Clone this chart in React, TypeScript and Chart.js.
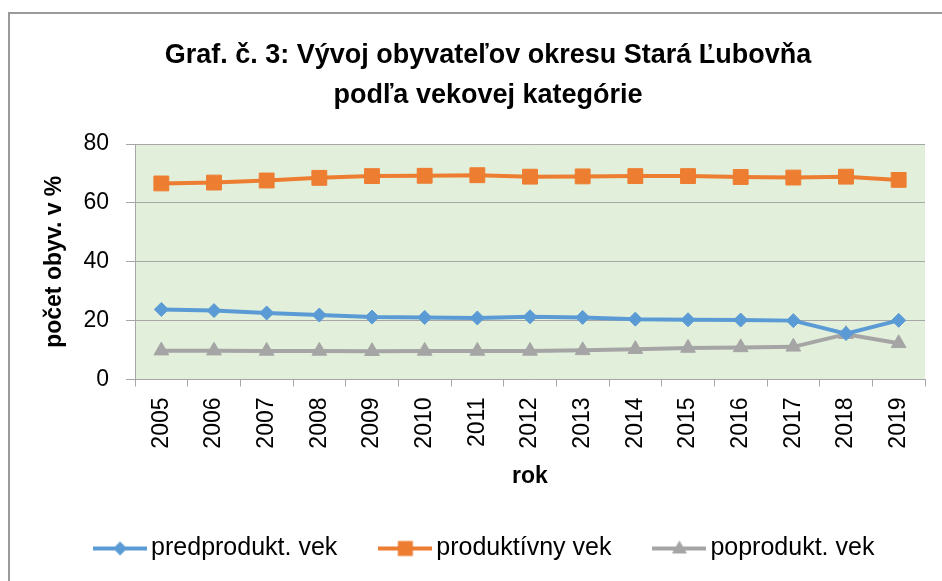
import React, { useEffect, useRef } from 'react';
import { Chart, registerables } from 'chart.js';

Chart.register(...registerables);

const years = ['2005', '2006', '2007', '2008', '2009', '2010', '2011', '2012', '2013', '2014', '2015', '2016', '2017', '2018', '2019'];
const predprodukt = [23.8, 23.4, 22.6, 21.9, 21.2, 21.1, 20.9, 21.3, 21.1, 20.5, 20.3, 20.2, 20.0, 15.6, 20.1];
const produktivny = [66.6, 66.9, 67.6, 68.5, 69.1, 69.2, 69.4, 68.9, 69.0, 69.1, 69.1, 68.8, 68.6, 68.9, 67.8];
const poprodukt = [9.8, 9.8, 9.7, 9.7, 9.6, 9.7, 9.7, 9.7, 9.9, 10.3, 10.7, 10.9, 11.1, 15.4, 12.3];
const yTicks = [0, 20, 40, 60, 80];
const titleLines = ['Graf. č. 3: Vývoj obyvateľov okresu Stará Ľubovňa', 'podľa vekovej kategórie'];
const seriesNames = ['predprodukt. vek', 'produktívny vek', 'poprodukt. vek'];
const yTitle = 'počet obyv. v %';
const xTitle = 'rok';

const colors = ['#5B9BD5', '#ED7D31', '#A5A5A5'];
const shapes = ['rectRot', 'rect', 'triangle'];
const radii = [7, 10.5, 8.5];

function legendIcon(color: string, shape: string): HTMLCanvasElement {
  const c = document.createElement('canvas');
  c.width = 54;
  c.height = 22;
  const g = c.getContext('2d')!;
  g.strokeStyle = color;
  g.lineWidth = 4;
  g.beginPath();
  g.moveTo(0, 11);
  g.lineTo(54, 11);
  g.stroke();
  g.fillStyle = color;
  g.beginPath();
  if (shape === 'rectRot') {
    g.moveTo(27, 4);
    g.lineTo(34, 11);
    g.lineTo(27, 18);
    g.lineTo(20, 11);
  } else if (shape === 'rect') {
    g.rect(27 - 7.5, 11 - 7.5, 15, 15);
  } else {
    g.moveTo(27, 3);
    g.lineTo(34.5, 16);
    g.lineTo(19.5, 16);
  }
  g.closePath();
  g.fill();
  return c;
}

export default function App() {
  const ref = useRef<HTMLCanvasElement>(null);

  useEffect(() => {
    const canvas = ref.current!;
    Chart.defaults.font.family = "'Liberation Sans', Arial, sans-serif";
    const icons = colors.map((c, i) => legendIcon(c, shapes[i]));
    const seriesData = [predprodukt, produktivny, poprodukt];

    const plotBg = {
      id: 'plotBg',
      beforeDraw(chart: any) {
        const { ctx, chartArea: a } = chart;
        ctx.save();
        ctx.fillStyle = '#E2EFDA';
        ctx.fillRect(a.left, a.top, a.right - a.left, a.bottom - a.top);
        ctx.restore();
      },
    };

    const chart = new Chart(canvas, {
      type: 'line',
      data: {
        labels: years,
        datasets: seriesData.map((d, i) => ({
          label: seriesNames[i],
          data: d,
          borderColor: colors[i],
          backgroundColor: colors[i],
          borderWidth: 4,
          pointStyle: shapes[i] as any,
          pointRadius: radii[i],
          pointHoverRadius: radii[i],
          pointBackgroundColor: colors[i],
          pointBorderColor: colors[i],
          pointBorderWidth: 1,
          tension: 0,
          fill: false,
          yAxisID: 'y',
        })),
      },
      options: {
        responsive: false,
        animation: false,
        layout: { padding: 0 },
        plugins: {
          title: {
            display: true,
            text: titleLines,
            color: '#000',
            font: { size: 27, weight: 'bold', lineHeight: 1.5 },
            padding: { top: 35, bottom: 28 },
          },
          legend: {
            position: 'bottom',
            labels: {
              usePointStyle: true,
              pointStyleWidth: 37,
              padding: 49.5,
              color: '#000',
              font: { size: 25 },
              generateLabels(ch: any) {
                const items = (Chart.defaults.plugins.legend.labels as any).generateLabels(ch);
                items.forEach((it: any, i: number) => {
                  it.pointStyle = icons[i];
                });
                return items;
              },
            },
          },
          tooltip: { enabled: false },
        },
        scales: {
          x: {
            offset: true,
            grid: { offset: true, drawOnChartArea: false, color: '#A6A6A6', tickLength: 7 },
            border: { display: true, color: '#A6A6A6', width: 1 },
            ticks: { minRotation: 90, maxRotation: 90, autoSkip: false, color: '#000', font: { size: 23 }, padding: 11 },
            title: {
              display: true,
              text: xTitle,
              color: '#000',
              font: { size: 23, weight: 'bold' },
              padding: { top: 0, bottom: -4 },
            },
            afterFit(s: any) {
              s.height = 107;
            },
          },
          y: {
            type: 'linear',
            position: 'left',
            min: 0,
            max: 80,
            afterBuildTicks(s: any) {
              s.ticks = yTicks.map((v) => ({ value: v }));
            },
            grid: { color: '#A6A6A6', tickLength: 9 },
            border: { display: true, color: '#A6A6A6', width: 1 },
            ticks: { color: '#000', font: { size: 23 }, padding: 17 },
            title: {
              display: true,
              text: yTitle,
              color: '#000',
              font: { size: 23, weight: 'bold' },
              padding: { top: 41, bottom: 0 },
            },
            afterFit(s: any) {
              s.width = 135;
            },
          },
          yR: {
            type: 'linear',
            position: 'right',
            display: true,
            grid: { display: false, drawTicks: false },
            ticks: { display: false },
            border: { display: false },
            afterFit(s: any) {
              s.width = 51;
            },
          },
        },
      } as any,
      plugins: [plotBg],
    });
    return () => chart.destroy();
  }, []);

  return (
    <div style={{ position: 'fixed', left: 0, top: 0, width: 942, height: 581, overflow: 'hidden', background: '#fff' }}>
      <div
        style={{
          position: 'absolute',
          left: 8,
          top: 12,
          width: 1000,
          height: 1000,
          border: '2px solid #9A9A9A',
        }}
      />
      <canvas
        ref={ref}
        width={976}
        height={571}
        style={{ position: 'absolute', left: 0, top: 0, width: 976, height: 571 }}
      />
    </div>
  );
}
